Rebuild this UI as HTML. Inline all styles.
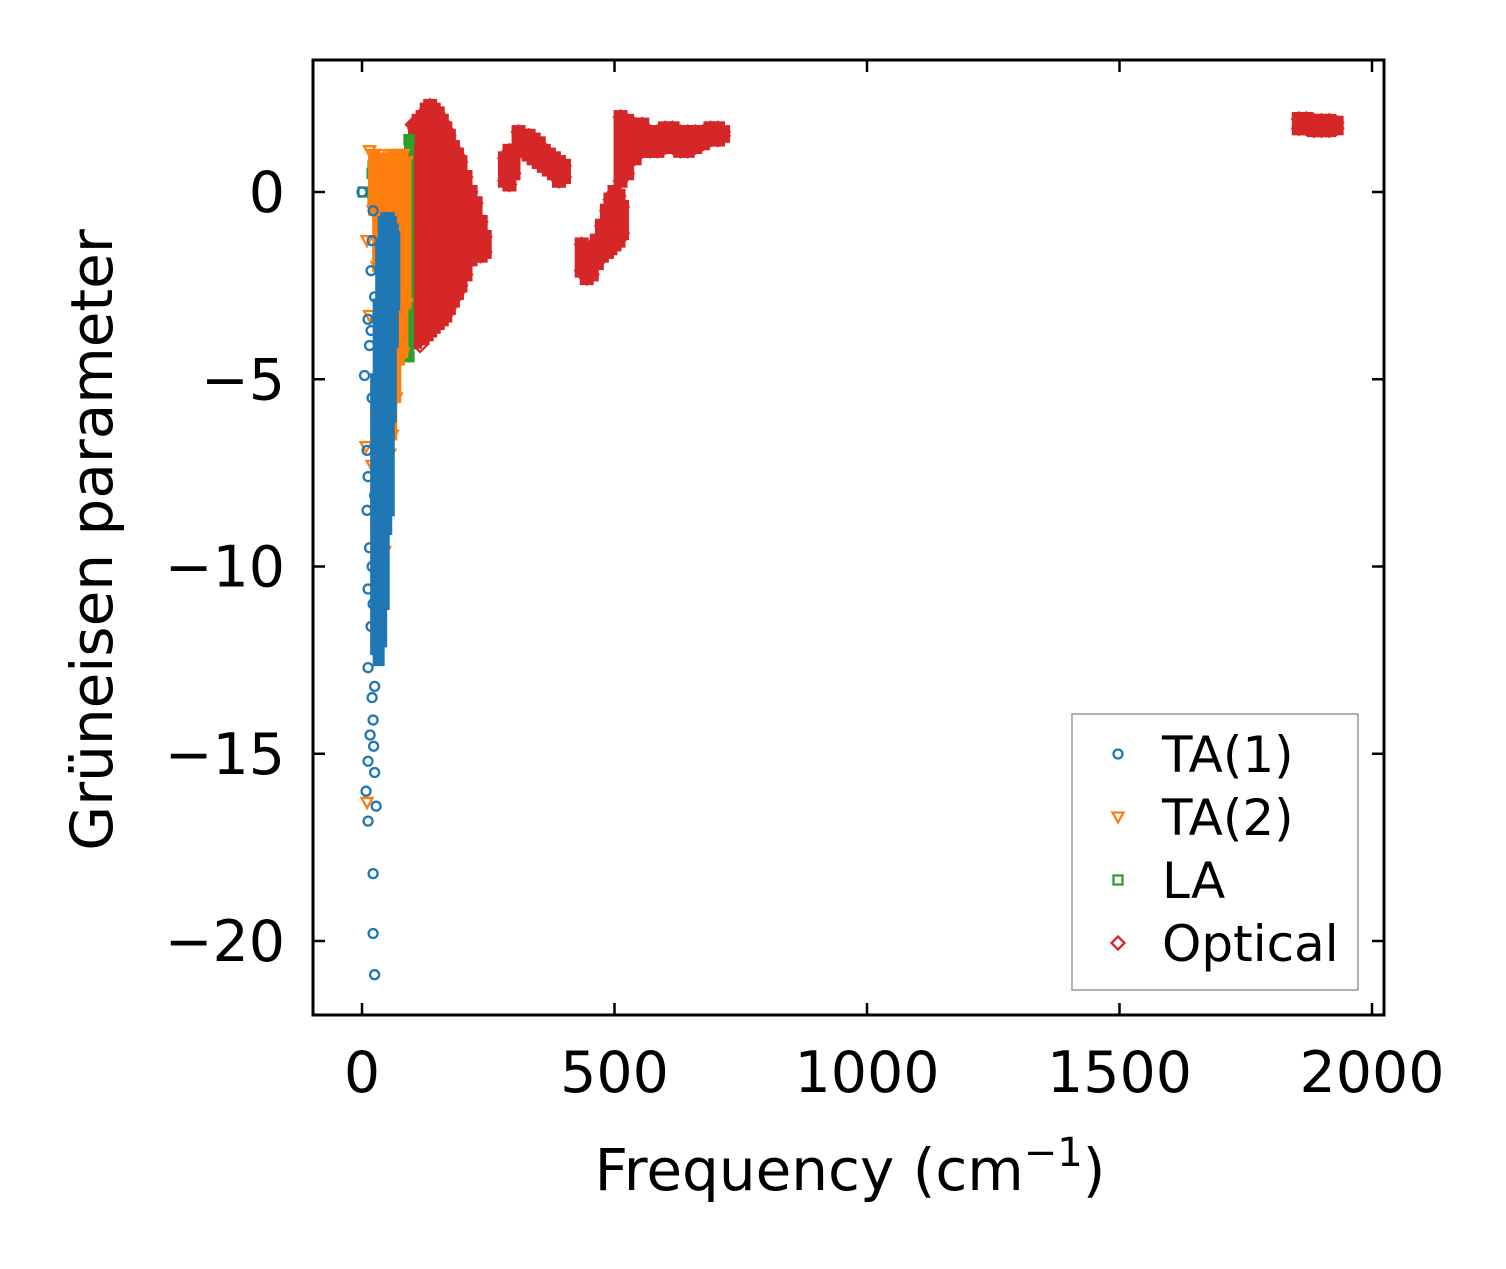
<!DOCTYPE html>
<html><head><meta charset="utf-8"><style>
body{margin:0;background:#fff}
svg text{font-family:"DejaVu Sans","Liberation Sans",sans-serif;fill:#000}
</style></head><body>
<svg id="chart" width="1506" height="1264" xmlns="http://www.w3.org/2000/svg">
<rect width="1506" height="1264" fill="#fff"/>
<g id="marks"></g>
<g id="axes"></g>
</svg>
<script>
// Band data: [frequency, gammaLow, gammaHigh]
const opticalBands=[[105,-4.0,1.7],[112,-3.9,1.9],[120,-3.9,2.0],[128,-3.8,2.2],[135,-3.7,2.3],[142,-3.6,2.2],[150,-3.5,2.1],[158,-3.4,1.9],[165,-3.3,1.7],[172,-3.1,1.5],[180,-2.9,1.2],[188,-2.7,1.0],[195,-2.5,0.8],[205,-2.2,0.4],[215,-1.8,0.0],[225,-1.7,-0.3],[235,-1.7,-0.8],[243,-1.6,-1.2],
[283,0.3,0.9],[292,0.2,1.1],[300,0.5,1.0],
[310,1.1,1.6],[320,1.1,1.5],[330,1.0,1.5],[340,0.9,1.4],[350,0.8,1.3],[360,0.7,1.1],[370,0.6,1.0],[380,0.5,0.9],[390,0.3,0.8],[400,0.4,0.7],
[435,-2.1,-1.4],[445,-2.3,-1.5],[455,-2.2,-1.5],[465,-1.9,-1.3],[475,-1.7,-0.9],[485,-1.6,-0.5],[492,-1.5,-0.2],[500,-1.4,0.0],[508,-1.3,-0.1],[515,-1.1,-0.4],
[512,0.3,2.0],[525,0.5,1.9],[540,0.9,1.8],[555,1.1,1.8],[570,1.1,1.6],[585,1.1,1.6],[600,1.2,1.7],[615,1.2,1.7],[630,1.1,1.6],[645,1.1,1.6],[660,1.2,1.6],[675,1.3,1.6],[690,1.4,1.7],[705,1.4,1.7],[715,1.5,1.6],
[1855,1.7,1.95],[1870,1.7,1.95],[1885,1.65,1.9],[1900,1.65,1.9],[1915,1.65,1.9],[1930,1.7,1.85]];
const opticalPoints=[[115,-4.1],[100,1.8],[125,2.0]];
const laBands=[[22,-0.2,0.7],[28,0.0,0.9],[75,-3.5,1.0],[85,-4.3,1.0],[93,-4.4,1.4]];
const laPoints=[[2,0.0],[20,0.5]];
const ta2Bands=[[22,-0.5,1.0],[30,-2,0.9],[38,-4,0.9],[45,-4.5,0.9],[52,-5.5,0.9],[60,-6.5,1.0],[68,-5.5,1.0],[75,-4.5,1.0],[82,-4.3,1.0],[88,-3,0.8]];
const ta2Points=[[15,1.1],[25,1.0],[35,1.0],[10,-16.3],[8,-6.8],[15,-3.3],[10,-1.3],[30,-7.4],[40,-8.6],[45,-9.6],[20,-7.3],[55,-7.0]];
const ta1Bands=[[28,-12.2,-5],[33,-12.5,-3],[38,-12,-1.5],[43,-11,-0.8],[48,-9,-0.7],[53,-8.5,-0.7],[57,-6,-0.8],[61,-4,-1.0],[64,-3,-1.2]];
const ta1Points=[[22,-18.2],[22,-19.8],[25,-20.9],[8,-16.0],[12,-16.8],[28,-16.4],[12,-15.2],[25,-15.5],[23,-14.8],[16,-14.5],[22,-14.1],[20,-13.5],[12,-12.7],[25,-13.2],[30,-12.3],[18,-11.6],[22,-11.0],[12,-10.6],[20,-10.0],[15,-9.5],[10,-8.5],[12,-7.6],[5,-4.9],[12,-3.4],[15,-4.1],[10,-6.9],[22,-0.5],[0,0],[20,-1.3],[18,-2.1],[25,-8.1],[30,-9.8],[20,-5.5],[18,-3.7],[25,-2.8]];
const xTicks=[0,500,1000,1500,2000];
const yTicks=[0,-5,-10,-15,-20];
const yTickLabels=["0","\u22125","\u221210","\u221215","\u221220"];
const series=["TA(1)","TA(2)","LA","Optical"];

const L=313,R=1384,T=60,B=1015;
const xs=v=>362+v*(1372-362)/2000;
const ys=v=>192-v*(941-192)/20;
const NS='http://www.w3.org/2000/svg';
const marks=document.getElementById('marks'),axes=document.getElementById('axes');
function mk(tag,attrs,parent){const e=document.createElementNS(NS,tag);for(const k in attrs)e.setAttribute(k,attrs[k]);parent.appendChild(e);return e;}
function marker(type,px,py,parent){
  let e;
  if(type==='circle')e=mk('circle',{cx:px,cy:py,r:4.5,fill:'none',stroke:'#1f77b4','stroke-width':2.3},parent);
  else if(type==='tri')e=mk('path',{d:`M${px-5.5},${py-4.5}L${px+5.5},${py-4.5}L${px},${py+5.5}Z`,fill:'none',stroke:'#ff7f0e','stroke-width':2.3},parent);
  else if(type==='sq')e=mk('rect',{x:px-4.5,y:py-4.5,width:9,height:9,fill:'none',stroke:'#2ca02c','stroke-width':2.3},parent);
  else e=mk('path',{d:`M${px},${py-6.5}L${px+6.5},${py}L${px},${py+6.5}L${px-6.5},${py}Z`,fill:'none',stroke:'#d62728','stroke-width':2.3},parent);
  return e;
}
const colors={circle:'#1f77b4',tri:'#ff7f0e',sq:'#2ca02c',dia:'#d62728'};
function drawBands(bands,type,name,halfW){
  const g=mk('g',{},marks);
  
  
  bands.forEach(b=>{
    const px=xs(b[0]),y1=ys(b[2]),y2=ys(b[1]);
    const r=mk('rect',{x:px-halfW,y:y1-halfW,width:2*halfW,height:y2-y1+2*halfW,fill:colors[type]},g);
    
    
    marker(type,px,y1,g);marker(type,px,y2,g);
  });
}
function drawPoints(pts,type,name){
  const g=mk('g',{},marks);
  
  
  pts.forEach(p=>{const e=marker(type,xs(p[0]),ys(p[1]),g);
    
    });
}
drawBands(opticalBands,'dia','optical-series',7);
drawPoints(opticalPoints,'dia','optical-outliers');
drawBands(laBands,'sq','la-series',5);
drawPoints(laPoints,'sq','la-outliers');
drawBands(ta2Bands,'tri','ta2-series',5);
drawPoints(ta2Points,'tri','ta2-outliers');
drawBands(ta1Bands,'circle','ta1-series',6);
drawPoints(ta1Points,'circle','ta1-outliers');

const fr=mk('rect',{x:L,y:T,width:R-L,height:B-T,fill:'none',stroke:'#000','stroke-width':3},axes);


xTicks.forEach(v=>{
  const x=xs(v);
  mk('line',{x1:x,y1:B,x2:x,y2:B-12,stroke:'#000','stroke-width':2.5},axes);
  mk('line',{x1:x,y1:T,x2:x,y2:T+12,stroke:'#000','stroke-width':2.5},axes);
  const t=mk('text',{x:x,y:1092,'font-size':57,'text-anchor':'middle'},axes);t.textContent=v;
  
  
});
yTicks.forEach((v,i)=>{
  const y=ys(v);
  mk('line',{x1:L,y1:y,x2:L+12,y2:y,stroke:'#000','stroke-width':2.5},axes);
  mk('line',{x1:R,y1:y,x2:R-12,y2:y,stroke:'#000','stroke-width':2.5},axes);
  const t=mk('text',{x:285,y:y+20,'font-size':57,'text-anchor':'end'},axes);t.textContent=yTickLabels[i];
  
  
});
const xl=mk('text',{x:850,y:1190,'font-size':58,'text-anchor':'middle'},axes);
xl.innerHTML='Frequency (cm<tspan dy="-24" font-size="40">\u22121</tspan><tspan dy="24">)</tspan>';


const yl=mk('text',{x:0,y:0,'font-size':58,'text-anchor':'middle',transform:'translate(112,540) rotate(-90)'},axes);
yl.textContent='Grüneisen parameter';


const lg=mk('g',{},axes);


mk('rect',{x:1072,y:714,width:286,height:276,fill:'#fff',stroke:'#999','stroke-width':1.5},lg);
const types=['circle','tri','sq','dia'];
series.forEach((s,i)=>{
  const y=757+i*63;
  marker(types[i],1118,y-3,lg);
  const t=mk('text',{x:1162,y:y+15,'font-size':50},lg);t.textContent=s;
  
  
});
</script>
</body></html>
